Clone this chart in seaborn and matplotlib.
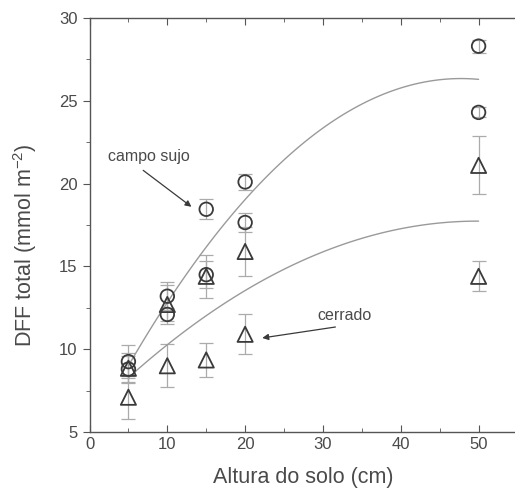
import seaborn as sns
import matplotlib.pyplot as plt
import pandas as pd
import numpy as np
from matplotlib.ticker import MultipleLocator

# soil heights (cm)
heights = [5, 10, 15, 20, 50]

# campo sujo (circles), two sets
campo_a = [9.25, 13.2, 18.45, 20.1, 28.3]
campo_a_err = [1.0, 0.85, 0.6, 0.5, 0.4]
campo_b = [8.8, 12.1, 14.5, 17.65, 24.3]
campo_b_err = [0.8, 0.4, 0.8, 0.6, 0.3]

# cerrado (triangles), two sets
cerrado_a = [8.85, 12.7, 14.4, 15.9, 21.1]
cerrado_a_err = [0.9, 1.2, 1.3, 1.45, 1.75]
cerrado_b = [7.1, 9.0, 9.35, 10.9, 14.4]
cerrado_b_err = [1.3, 1.3, 1.05, 1.2, 0.9]

sns.set_style("ticks")
plt.rcParams["font.family"] = ["Liberation Sans", "DejaVu Sans"]

txt = "#4a4a4a"
edge = "#3a3a3a"
fitc = "#9a9a9a"
errc = "#ababab"

campo = pd.DataFrame({"x": heights * 2, "y": campo_a + campo_b,
                      "err": campo_a_err + campo_b_err})
cerrado = pd.DataFrame({"x": heights * 2, "y": cerrado_a + cerrado_b,
                        "err": cerrado_a_err + cerrado_b_err})

fig = plt.figure(figsize=(5.15, 4.92), dpi=100)
ax = fig.add_axes([89.5 / 515, 60 / 492, 428 / 515, 414 / 492])

# error bars
for df in (campo, cerrado):
    ax.errorbar(df["x"], df["y"], yerr=df["err"], fmt="none",
                ecolor=errc, elinewidth=0.9, capsize=5, capthick=0.9, zorder=2)

# quadratic fits
sns.regplot(data=campo, x="x", y="y", order=2, scatter=False, ci=None,
            color=fitc, line_kws={"lw": 1.0}, ax=ax)
sns.regplot(data=cerrado, x="x", y="y", order=2, scatter=False, ci=None,
            color=fitc, line_kws={"lw": 1.0}, ax=ax)

# points
sns.scatterplot(data=campo, x="x", y="y", marker="o", s=95,
                facecolor="none", edgecolor=edge, linewidth=1.3, ax=ax, zorder=4)
sns.scatterplot(data=cerrado, x="x", y="y", marker="^", s=120,
                facecolor="none", edgecolor=edge, linewidth=1.3, ax=ax, zorder=4)

ax.set_xlim(0, 55)
ax.set_ylim(5, 30)
ax.xaxis.set_major_locator(MultipleLocator(10))
ax.xaxis.set_minor_locator(MultipleLocator(5))
ax.yaxis.set_major_locator(MultipleLocator(5))
ax.yaxis.set_minor_locator(MultipleLocator(2.5))

for s in ax.spines.values():
    s.set_color("#555555")
    s.set_linewidth(1.0)

ax.tick_params(axis="x", which="both", direction="in", top=True,
               colors="#555555", labelcolor=txt, labelsize=12)
ax.tick_params(axis="x", which="major", length=5)
ax.tick_params(axis="x", which="minor", length=3)
ax.tick_params(axis="y", which="both", direction="out", colors="#555555",
               labelcolor=txt, labelsize=12)
ax.tick_params(axis="y", which="major", length=5)
ax.tick_params(axis="y", which="minor", length=3)
ax.tick_params(axis="y", which="both", right=True)

ax.set_xlabel("Altura do solo (cm)", fontsize=15.5, color=txt, labelpad=11)
ax.set_ylabel(r"DFF total (mmol m$^{\mathregular{-2}}$)", fontsize=15.5,
              color=txt)
ax.yaxis.set_label_coords(-0.117, 0.452)

ax.text(2.4, 21.2, "campo sujo", fontsize=11.5, color=txt, va="bottom")
ax.annotate("", xy=(13.1, 18.6), xytext=(6.9, 20.8),
            arrowprops=dict(arrowstyle="-|>", color=edge, lw=0.9,
                            shrinkA=0, shrinkB=0, mutation_scale=9))
ax.text(29.3, 11.6, "cerrado", fontsize=11.5, color=txt, va="bottom")
ax.annotate("", xy=(22.2, 10.68), xytext=(31.6, 11.34),
            arrowprops=dict(arrowstyle="-|>", color=edge, lw=0.9,
                            shrinkA=0, shrinkB=0, mutation_scale=9))

fig.savefig("out.png", dpi=100)
